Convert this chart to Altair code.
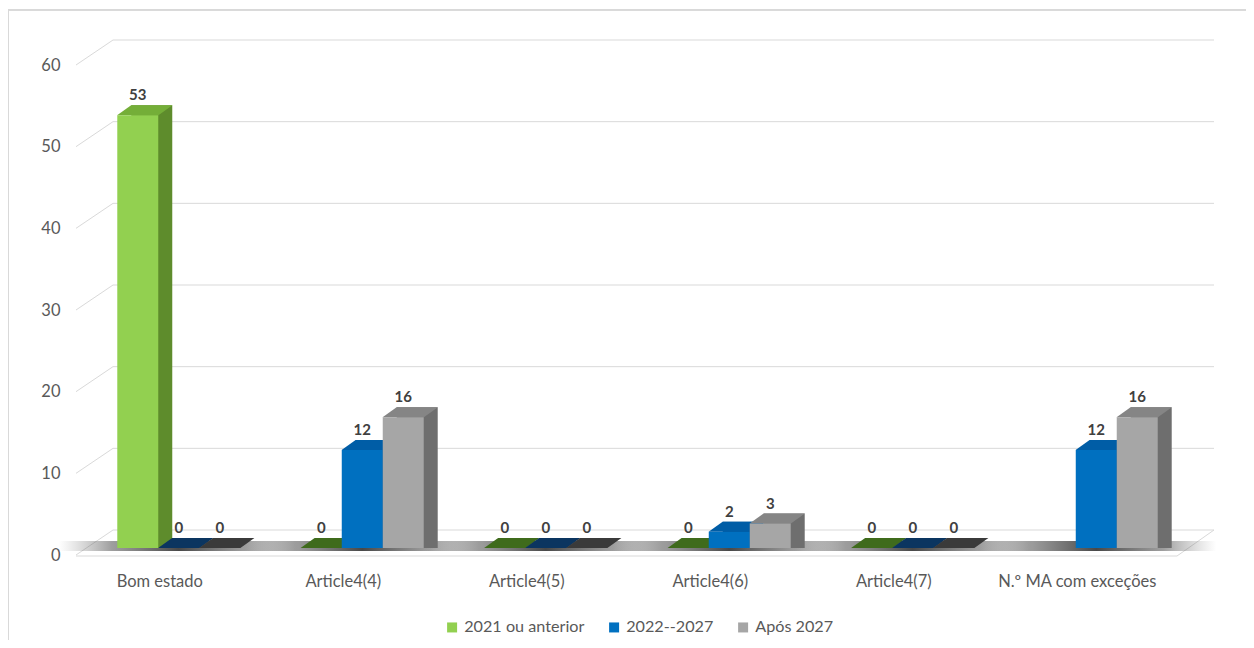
import altair as alt
import pandas as pd

categories = ["Bom estado", "Article4(4)", "Article4(5)", "Article4(6)", "Article4(7)", "N.º MA com exceções"]
series = ["2021 ou anterior", "2022--2027", "Após 2027"]
s_2021 = [53, 0, 0, 0, 0, None]
s_2022_2027 = [0, 12, 0, 2, 0, 12]
s_apos_2027 = [0, 16, 0, 3, 0, 16]
y_ticks = [0, 10, 20, 30, 40, 50, 60]

rows = []
for name, vals in zip(series, [s_2021, s_2022_2027, s_apos_2027]):
    for c, v in zip(categories, vals):
        if v is not None:
            rows.append({"cat": c, "series": name, "value": v})
df = pd.DataFrame(rows)
ticks_df = pd.DataFrame({"v": y_ticks})
cat_df = pd.DataFrame({"cat": categories})

front_cols = ["#92D050", "#0070C0", "#A6A6A6"]
top_cols = ["#74AE38", "#005DA6", "#858585"]
side_cols = ["#5E8C2C", "#004F8C", "#6E6E6E"]
floor_cols = ["#3F6B1C", "#0B3560", "#3A3A3A"]

FONT = "Lato"
W, H = 1101, 490
P_IN, P_OUT = 0.33, 0.165
STEP = W / (len(categories) - P_IN + 2 * P_OUT)
BANDW = STEP * (1 - P_IN)
DEPTH = 14

x_scale = alt.Scale(domain=categories, paddingInner=P_IN, paddingOuter=P_OUT)
x_axis = alt.Axis(title=None, domain=False, ticks=False, grid=False, labelAngle=0,
                  labelAlign="center", labelBaseline="top",
                  labelOffset=-19, labelPadding=25, labelFontSize=16.5,
                  labelColor="#595959", labelFont=FONT)
x_enc = alt.X("cat:N", sort=categories, scale=x_scale, axis=x_axis)
xo_enc = alt.XOffset("series:N", sort=series, scale=alt.Scale(domain=series))
xo_side = alt.XOffset("series:N", sort=series,
                      scale=alt.Scale(domain=series, range=[DEPTH, DEPTH + BANDW]))
y_scale = alt.Scale(domain=[0, 60], nice=False)
y_axis = alt.Axis(title=None, domain=False, ticks=False, grid=False,
                  values=y_ticks, labelOffset=7, labelPadding=27,
                  labelFontSize=16.5, labelColor="#595959", labelFont=FONT)
y_enc = alt.Y("value:Q", scale=y_scale, stack=None, axis=y_axis)
y_dec = alt.Y("v:Q", scale=y_scale, axis=y_axis)

def col(rng, legend=None):
    return alt.Color("series:N", sort=series,
                     scale=alt.Scale(domain=series, range=rng), legend=legend)

# decorative frame (left and top)
frame_top = alt.Chart(cat_df).mark_rule(color="#d9d9d9", strokeWidth=1).encode(
    x=alt.value(-79), x2=alt.value(1200), y=alt.value(-48))
frame_left = alt.Chart(cat_df).mark_rule(color="#d9d9d9", strokeWidth=1).encode(
    x=alt.value(-78.5), y=alt.value(-48), y2=alt.value(600))

grid_back = alt.Chart(ticks_df).mark_rule(color="#d9d9d9", strokeWidth=1, yOffset=-18).encode(
    y=y_dec, x=alt.value(26), x2=alt.value(1127))
grid_diag = alt.Chart(ticks_df).mark_rule(color="#d9d9d9", strokeWidth=1, yOffset=7, y2Offset=-18).encode(
    y=y_dec, y2="v:Q", x=alt.value(-11), x2=alt.value(26))
floor_front = alt.Chart(ticks_df).transform_filter("datum.v == 0").mark_rule(
    color="#d9d9d9", strokeWidth=1, yOffset=8).encode(
    y=y_dec, x=alt.value(-11), x2=alt.value(1090))
floor_right = alt.Chart(ticks_df).transform_filter("datum.v == 0").mark_rule(
    color="#d9d9d9", strokeWidth=1, yOffset=8, y2Offset=-18).encode(
    y=y_dec, y2="v:Q", x=alt.value(1090), x2=alt.value(1127))

shadow_grad = alt.LinearGradient(
    gradient="linear", x1=0, x2=1, y1=0, y2=0,
    stops=[alt.GradientStop(color="rgba(120,120,120,0)", offset=0),
           alt.GradientStop(color="rgba(80,80,80,0.55)", offset=0.22),
           alt.GradientStop(color="rgba(40,40,40,0.85)", offset=0.5),
           alt.GradientStop(color="rgba(80,80,80,0.55)", offset=0.78),
           alt.GradientStop(color="rgba(120,120,120,0)", offset=1)])
shadow = alt.Chart(cat_df).transform_calculate(z="0").mark_bar(
    color=shadow_grad, width=240, yOffset=-7, y2Offset=3).encode(
    x=alt.X("cat:N", sort=categories, scale=x_scale, axis=x_axis),
    y=alt.Y("z:Q", scale=y_scale, axis=y_axis), y2="z:Q")

pos = df[df["value"] > 0]
zero = df[df["value"] == 0]

side = alt.Chart(pos).mark_bar(yOffset=-10).encode(
    x=x_enc, xOffset=xo_side, y=y_enc, color=col(side_cols))

PARA = "M -0.59 0 L 0.59 0 L 0.99 -0.2857 L -0.19 -0.2857 Z"
top = alt.Chart(pos).mark_point(shape=PARA, size=4900, filled=True, opacity=1, strokeWidth=0).encode(
    x=x_enc, xOffset=xo_enc, y=y_enc, color=col(top_cols))
floor = alt.Chart(zero).mark_point(shape=PARA, size=4900, filled=True, opacity=1, strokeWidth=0).encode(
    x=x_enc, xOffset=xo_enc, y=y_enc, color=col(floor_cols))

front = alt.Chart(pos).mark_bar().encode(
    x=x_enc, xOffset=xo_enc, y=y_enc,
    color=col(front_cols, alt.Legend(title=None, orient="none", direction="horizontal",
                                     legendX=357, legendY=561, symbolType="square",
                                     symbolSize=100, symbolStrokeWidth=0,
                                     labelFontSize=16.2, labelFont=FONT, labelColor="#595959",
                                     columnPadding=21, labelOffset=4)))

labels = alt.Chart(df).mark_text(dy=-20, fontSize=15, fontWeight="bold", color="#404040",
                                 font=FONT, baseline="middle").encode(
    x=x_enc, xOffset=xo_enc, y=y_enc, text="value:Q")

chart = alt.layer(frame_top, frame_left, grid_back, grid_diag, floor_front, floor_right,
                  shadow, side, top, floor, front, labels).resolve_scale(
    color="independent", xOffset="independent").properties(
    width=W, height=H,
    background="white",
    autosize=alt.AutoSizeParams(type="none"),
    padding={"left": 79, "top": 50, "right": 58, "bottom": 92},
).configure_view(strokeWidth=0, stroke="transparent")

chart.save("out.html", embed_options={"renderer": "svg", "actions": False})
